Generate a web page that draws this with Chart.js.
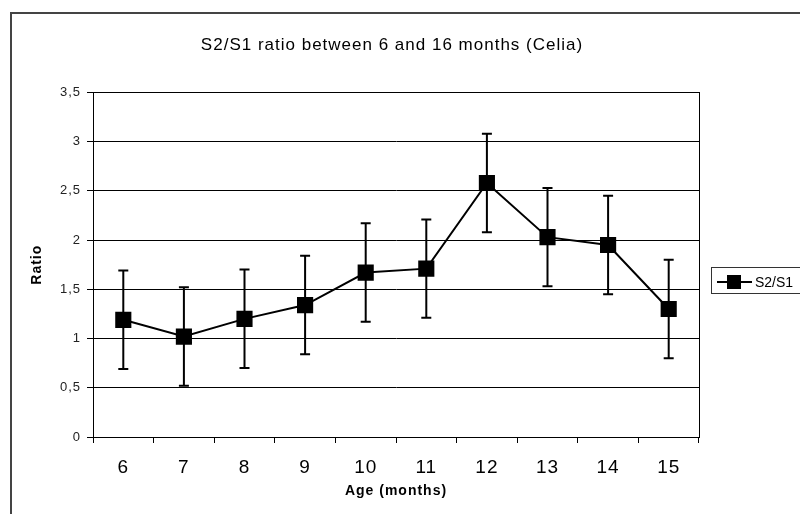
<!DOCTYPE html>
<html>
<head>
<meta charset="utf-8">
<script src="https://cdn.jsdelivr.net/npm/chart.js@4.4.0/dist/chart.umd.min.js"></script>
<style>
  html, body { margin: 0; padding: 0; background: #fff; }
  canvas { display: block; }
</style>
</head>
<body>
<canvas id="chart" width="800" height="514"></canvas>
<script>
const ages = ['6', '7', '8', '9', '10', '11', '12', '13', '14', '15'];
const ratio = [1.19, 1.02, 1.20, 1.34, 1.67, 1.71, 2.58, 2.03, 1.95, 1.30];
const ratioErr = [0.5, 0.5, 0.5, 0.5, 0.5, 0.5, 0.5, 0.5, 0.5, 0.5];
const yTicks = [0, 0.5, 1, 1.5, 2, 2.5, 3, 3.5];

const FONT = "'Liberation Sans', Arial, sans-serif";

// error bars, plot border, legend and outer frame
const extras = {
    id: 'extras',
    beforeDraw(chart) {
        const ctx = chart.ctx;
        ctx.fillStyle = '#fff';
        ctx.fillRect(0, 0, chart.width, chart.height);
        // old Excel text looks loosely spaced
        ctx.letterSpacing = '1px';
    },
    afterDatasetsDraw(chart) {
        const ctx = chart.ctx;
        const x = chart.scales.x, y = chart.scales.y;
        const a = chart.chartArea;
        ctx.save();
        ctx.strokeStyle = '#000';
        ctx.lineWidth = 1;
        ctx.strokeRect(Math.round(a.left) + 0.5, Math.round(a.top) + 0.5,
            Math.round(a.right - a.left), Math.round(a.bottom - a.top));
        ctx.lineWidth = 2;
        ratio.forEach((v, i) => {
            const px = x.getPixelForValue(i);
            const top = y.getPixelForValue(v + ratioErr[i]);
            const bot = y.getPixelForValue(v - ratioErr[i]);
            ctx.beginPath();
            ctx.moveTo(px, top); ctx.lineTo(px, bot);
            ctx.moveTo(px - 5, top); ctx.lineTo(px + 5, top);
            ctx.moveTo(px - 5, bot); ctx.lineTo(px + 5, bot);
            ctx.stroke();
        });
        ctx.restore();
    },
    afterDraw(chart) {
        const ctx = chart.ctx;
        ctx.save();
        // outer frame
        ctx.strokeStyle = '#444';
        ctx.lineWidth = 2;
        ctx.strokeRect(11, 13, 800, 520);
        // legend
        ctx.strokeStyle = '#333';
        ctx.lineWidth = 1;
        ctx.strokeRect(711.5, 267.5, 100, 26);
        ctx.strokeStyle = '#000';
        ctx.lineWidth = 2;
        ctx.beginPath();
        ctx.moveTo(717, 282); ctx.lineTo(752, 282);
        ctx.stroke();
        ctx.fillStyle = '#000';
        ctx.fillRect(727, 275, 14, 14);
        ctx.letterSpacing = '0px';
        ctx.font = '14px ' + FONT;
        ctx.textBaseline = 'middle';
        ctx.fillText(chart.data.datasets[0].label, 755, 283);
        ctx.restore();
    }
};

new Chart(document.getElementById('chart'), {
    type: 'line',
    data: {
        labels: ages,
        datasets: [{
            label: 'S2/S1',
            data: ratio,
            borderColor: '#000',
            borderWidth: 2,
            backgroundColor: '#000',
            pointStyle: 'rect',
            pointRadius: 10,
            pointHoverRadius: 10,
            tension: 0
        }]
    },
    options: {
        responsive: false,
        animation: false,
        devicePixelRatio: 1,
        layout: { padding: { left: 0, right: 16, top: 0, bottom: 0 } },
        plugins: {
            legend: { display: false },
            tooltip: { enabled: false },
            title: {
                display: true,
                text: 'S2/S1 ratio between 6 and 16 months (Celia)',
                color: '#000',
                font: { family: FONT, size: 17, weight: 'normal' },
                padding: { top: 35, bottom: 37 }
            }
        },
        scales: {
            x: {
                offset: true,
                grid: { offset: true, drawOnChartArea: false, color: '#000', tickLength: 6 },
                border: { color: '#000', width: 1 },
                ticks: { color: '#000', font: { family: FONT, size: 19 }, padding: 13, maxRotation: 0 },
                title: {
                    display: true,
                    text: 'Age (months)',
                    color: '#000',
                    font: { family: FONT, size: 14, weight: 'bold' },
                    padding: { top: 0, bottom: 14 }
                },
                afterFit(scale) { scale.height = 77; }
            },
            y: {
                min: 0,
                max: 3.5,
                afterBuildTicks(scale) { scale.ticks = yTicks.map(v => ({ value: v })); },
                grid: { color: '#000', tickLength: 6 },
                border: { color: '#000', width: 1 },
                ticks: {
                    color: '#222',
                    font: { family: FONT, size: 13 },
                    padding: 6,
                    callback: v => String(v).replace('.', ',')
                },
                title: {
                    display: true,
                    text: 'Ratio',
                    color: '#000',
                    font: { family: FONT, size: 14, weight: 'bold' },
                    padding: { top: 29, bottom: 0 }
                },
                afterFit(scale) { scale.width = 93; }
            },
            // empty right-hand box that leaves room for the legend
            side: {
                axis: 'y',
                position: 'right',
                display: true,
                grid: { display: false },
                border: { display: false },
                ticks: { display: false },
                afterFit(scale) { scale.width = 85; }
            }
        }
    },
    plugins: [extras]
});
</script>
</body>
</html>
